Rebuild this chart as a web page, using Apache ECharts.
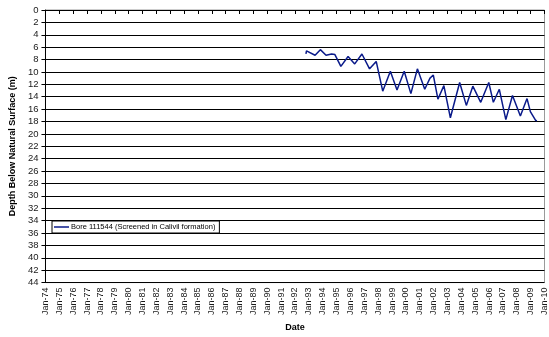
<!DOCTYPE html>
<html>
<head>
<meta charset="utf-8">
<script src="https://cdn.jsdelivr.net/npm/echarts@6/dist/echarts.min.js"></script>
<style>
  html, body { margin: 0; padding: 0; background: #fff; }
  #chart { width: 549px; height: 337px; }
</style>
</head>
<body>
<div id="chart"></div>
<script>
// Sample dates as decimal years and water depth below natural surface (m)
const sampleYear = [1992.79, 1992.83, 1993.45, 1993.83, 1994.24, 1994.64, 1994.88, 1995.31,
  1995.83, 1996.31, 1996.83, 1997.38, 1997.86, 1998.33, 1998.88, 1999.36, 1999.88, 2000.36,
  2000.83, 2001.36, 2001.74, 2001.98, 2002.31, 2002.74, 2003.21, 2003.88, 2004.36, 2004.83,
  2005.40, 2005.98, 2006.31, 2006.74, 2007.21, 2007.69, 2008.26, 2008.74, 2008.98, 2009.36, 2009.45];
const depthM = [7.1, 6.6, 7.3, 6.4, 7.3, 7.1, 7.2, 9.1,
  7.5, 8.7, 7.1, 9.5, 8.3, 13.1, 9.9, 12.9, 9.9, 13.5,
  9.5, 12.8, 11.0, 10.5, 14.4, 12.2, 17.4, 11.7, 15.4, 12.3,
  14.9, 11.7, 14.9, 12.8, 17.7, 13.8, 17.1, 14.3, 16.4, 17.8, 17.9];

const seriesName = 'Bore 111544 (Screened in Calivil formation)';
const yearMin = 1974, yearMax = 2010;
const depthMin = 0, depthMax = 44, depthStep = 2;

const font = 'Liberation Sans, Arial, sans-serif';
const gridColors = ['#9a9a9a'];
for (let v = depthMin + depthStep; v <= depthMax; v += depthStep) gridColors.push('#000');

const chart = echarts.init(document.getElementById('chart'), null, { renderer: 'canvas' });
chart.setOption({
  animation: false,
  backgroundColor: '#fff',
  textStyle: { fontFamily: font },
  grid: {
    left: 41, right: 4, top: 10, bottom: 53,
    show: true, borderColor: '#9a9a9a', borderWidth: 1, backgroundColor: '#fff'
  },
  legend: {
    show: true,
    left: 52, top: 221,
    data: [{ name: seriesName, icon: 'rect' }],
    itemWidth: 15, itemHeight: 1.5, itemGap: 4,
    padding: [2, 4, 2, 2],
    borderColor: '#000', borderWidth: 1,
    backgroundColor: '#fff',
    textStyle: { fontSize: 7.5, color: '#000', fontFamily: font, padding: [0, 0, 0, -3] }
  },
  xAxis: {
    type: 'value',
    min: yearMin, max: yearMax, interval: 1,
    name: 'Date', nameLocation: 'middle', nameGap: 39,
    nameTextStyle: { fontWeight: 'bold', fontSize: 9, color: '#000' },
    axisLine: { lineStyle: { color: '#000', width: 1 } },
    axisTick: { show: true, length: 4, lineStyle: { color: '#000' } },
    axisLabel: {
      rotate: 90, fontSize: 9, color: '#1a1a1a', margin: 5,
      formatter: v => 'Jan-' + String(Math.round(v) % 100).padStart(2, '0')
    },
    splitLine: { show: false }
  },
  yAxis: {
    type: 'value',
    inverse: true,
    min: depthMin, max: depthMax, interval: depthStep,
    name: 'Depth Below Natural Surface (m)', nameLocation: 'middle', nameGap: 27,
    nameTextStyle: { fontWeight: 'bold', fontSize: 9, color: '#000' },
    axisLine: { show: true, lineStyle: { color: '#000', width: 1 } },
    axisTick: { show: true, length: 4, lineStyle: { color: '#000' } },
    axisLabel: { fontSize: 9.5, color: '#1a1a1a', margin: 7 },
    splitLine: { show: true, lineStyle: { color: gridColors, width: 1 } }
  },
  series: [{
    name: seriesName,
    type: 'line',
    data: sampleYear.map((y, i) => [y, depthM[i]]),
    showSymbol: false,
    symbol: 'none',
    color: '#0a1a8a',
    lineStyle: { color: '#0a1a8a', width: 1.5 }
  }]
});
</script>
</body>
</html>
